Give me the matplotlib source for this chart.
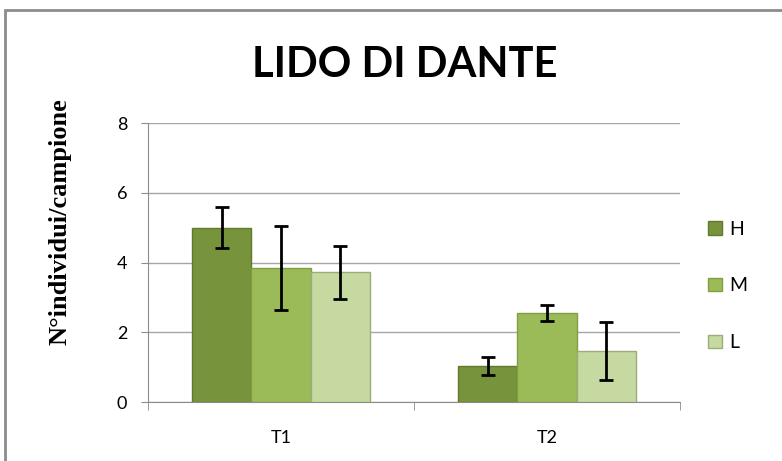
import matplotlib
matplotlib.use("Agg")
import matplotlib.pyplot as plt
from matplotlib.patches import Rectangle
import numpy as np

categories = ['T1', 'T2']
series = ['H', 'M', 'L']
values = {
    'H': [5.0, 1.02],
    'M': [3.85, 2.55],
    'L': [3.72, 1.47],
}
errors = {
    'H': [0.58, 0.26],
    'M': [1.2, 0.23],
    'L': [0.76, 0.83],
}
colors = {'H': '#77933C', 'M': '#9BBB59', 'L': '#C6D9A0'}
edges = {'H': '#5E7A2C', 'M': '#7F9F40', 'L': '#9AAD7A'}

fig = plt.figure(figsize=(7.82, 4.61), dpi=100)
ax = fig.add_axes([148 / 782, 1 - 402 / 461, 532 / 782, 279 / 461])

# chart border
fig.patches.append(Rectangle((5 / 782, -0.05), 1.1, 1 - 10 / 461 + 0.05,
                             transform=fig.transFigure, fill=False,
                             edgecolor='#8C8C8C', linewidth=2))

x = np.arange(len(categories))
w = 0.222
for i, s in enumerate(series):
    ax.bar(x + (i - 1) * w, values[s], w, color=colors[s], edgecolor=edges[s],
           linewidth=1, label=s, zorder=3)
    ax.errorbar(x + (i - 1) * w, values[s], yerr=errors[s], fmt='none',
                ecolor='black', elinewidth=2, capsize=5, capthick=2, zorder=4)

ax.set_xlim(-0.5, 1.5)
ax.set_ylim(0, 8)
ax.set_yticks([0, 2, 4, 6, 8])
ax.set_xticks(x)
ax.set_xticklabels(categories)
ax.set_xticks([-0.5, 0.5, 1.5], minor=True)
ax.tick_params(axis='x', which='major', length=0, pad=20, labelsize=13)
ax.tick_params(axis='x', which='minor', length=6, color='#8C8C8C')
ax.tick_params(axis='y', length=5, color='#8C8C8C', labelsize=13, pad=10)
for lab in ax.get_xticklabels() + ax.get_yticklabels():
    lab.set_fontfamily('Lato')
ax.grid(axis='y', color='#A6A6A6', linewidth=1, zorder=0)
for sp in ['top', 'right']:
    ax.spines[sp].set_visible(False)
ax.spines['left'].set_color('#8C8C8C')
ax.spines['bottom'].set_color('#8C8C8C')

fig.text(60 / 782, 1 - 222 / 461, 'N°individui/campione', rotation=90,
         ha='center', va='center', family='Liberation Serif',
         fontweight='bold', fontsize=19)
fig.text(0.517, 0.86, 'LIDO DI DANTE', ha='center', va='center',
         family='Lato', fontweight='bold', fontsize=30)

leg = ax.legend(loc='center left', bbox_to_anchor=(1.02, 0.416), frameon=False,
                prop={'family': 'Lato', 'size': 14}, handlelength=0.7,
                handleheight=0.7, labelspacing=2.05, handletextpad=0.4)

fig.savefig('out.png', dpi=100)
